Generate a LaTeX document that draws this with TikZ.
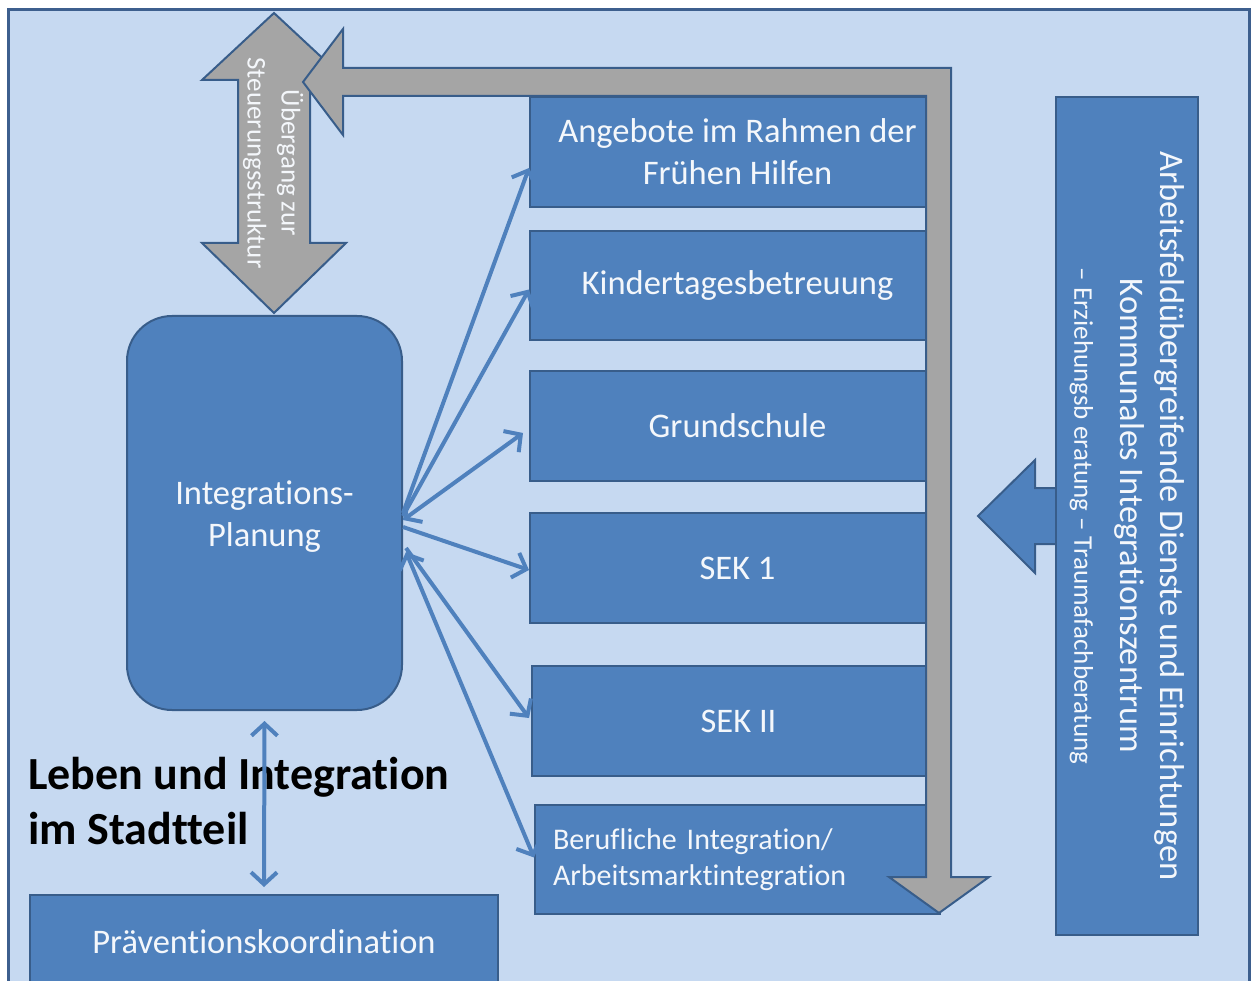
\documentclass[tikz,border=0pt]{standalone}
\usepackage{fontspec}
\setmainfont[Ligatures=NoCommon]{Carlito}
\usetikzlibrary{arrows.meta}
\definecolor{bgblue}{HTML}{C6D9F1}
\definecolor{boxblue}{HTML}{4F81BD}
\definecolor{boxedge}{HTML}{385D8A}
\definecolor{frameedge}{HTML}{3D5F8E}
\definecolor{grayarrow}{HTML}{A5A5A5}
\definecolor{txt}{HTML}{F4F7FB}
\tikzset{
  boxnode/.style={draw=boxedge, line width=2pt, fill=boxblue, text=txt, align=center,
    inner sep=0pt, font=\fontsize{34.5}{42}\selectfont},
  bigarrow/.style={draw=boxedge, line width=2pt, fill=grayarrow, line join=miter},
  bluearrow/.style={draw=boxedge, line width=2pt, fill=boxblue},
  link/.style={draw=boxblue, line width=4pt, -{Straight Barb[length=12pt,width=26pt]}},
  dlink/.style={draw=boxblue, line width=4pt, {Straight Barb[length=12pt,width=26pt]}-{Straight Barb[length=12pt,width=26pt]}},
}
\begin{document}
\begin{tikzpicture}[x=1pt,y=-1pt]
\useasboundingbox (0,0) rectangle (1252,981);
\clip (0,0) rectangle (1252,981);
% background frame
\fill[white] (0,0) rectangle (1252,981);
\draw[frameedge, line width=3pt, fill=bgblue] (8,10) rectangle (1249.5,1000);

% gray vertical double arrow
\draw[bigarrow] (274,13) -- (346,80) -- (310,80) -- (310,243) -- (346,243) -- (274,313)
  -- (202,243) -- (238,243) -- (238,80) -- (202,80) -- cycle;
\node[rotate=-90, text=txt, align=center, font=\fontsize{27}{34}\selectfont] (ueb) at (273,163)
  {Übergang zur\\Steuerungsstruktur};

% blue arrow from the right panel
\draw[bluearrow] (978,516) -- (1035,460) -- (1035,488) -- (1060,488) -- (1060,544)
  -- (1035,544) -- (1035,573) -- cycle;

% boxes (their right ends run under the gray arrow)
\node[boxnode, minimum width=415pt, minimum height=110pt] (ang) at (737.5,152)
  {Angebote im Rahmen der\\Frühen Hilfen};
\node[boxnode, minimum width=415pt, minimum height=109pt] (kita) at (737.5,285.5)
  {Kindertagesbetreuung};
\node[boxnode, minimum width=415pt, minimum height=110pt] (gs) at (737.5,426)
  {Grundschule};
\node[boxnode, minimum width=415pt, minimum height=110pt] (sek1) at (737.5,568)
  {SEK 1};
\node[boxnode, minimum width=413pt, minimum height=110pt] (sek2) at (738.5,721)
  {SEK II};
\node[boxnode, minimum width=405pt, minimum height=109pt, align=left, text width=369pt,
  font=\fontsize{30}{36}\selectfont] (beruf) at (737.5,859.5)
  {Berufliche Integration/\\Arbeitsmarktintegration};

% gray L-shaped arrow
\draw[bigarrow] (951,68) -- (951,877) -- (989,877) -- (939,913) -- (889,877) -- (926,877)
  -- (926,96) -- (343,96) -- (343,135) -- (303,82) -- (343,29) -- (343,68) -- cycle;

% right panel
\node[boxnode, rotate=-90, minimum width=838pt, minimum height=142pt] (panel) at (1127,516)
  {Arbeitsfeldübergreifende Dienste und Einrichtungen\\[-2pt]
   Kommunales Integrationszentrum\\[4pt]
   {\fontsize{27}{32}\selectfont – Erziehungsb eratung – Traumafachberatung}};

% Integrations-Planung
\node[boxnode, rounded corners=45pt, minimum width=275pt, minimum height=394pt] (plan) at (264.5,513)
  {\rule{0pt}{30pt}Integrations-\\Planung};

% Prävention
\node[boxnode, minimum width=468pt, minimum height=94pt] (prae) at (264,942)
  {Präventionskoordination};

% title text
\node[anchor=north west, align=left, text=black, inner sep=0pt,
  font=\fontsize{46}{55}\bfseries\selectfont] (title) at (28,757)
  {Leben und Integration\\im Stadtteil};

% connectors
\draw[link] ([yshift=0pt]plan.east) -- ([yshift=-16pt]ang.west);
\draw[link] ([yshift=-3pt]plan.east) -- ([yshift=-4pt]kita.west);
\draw[dlink] ([yshift=-7pt]plan.east) -- ([xshift=-6pt,yshift=-7pt]gs.west);
\draw[link] ([yshift=-14pt]plan.east) -- ([yshift=-2pt]sek1.west);
\draw[link] ([xshift=3pt,yshift=-35pt]plan.east) -- ([xshift=-2pt,yshift=3pt]sek2.west);
\draw[dlink] ([xshift=3pt,yshift=-39pt]plan.east) -- ([yshift=2pt]beruf.west);
\draw[dlink] ([yshift=-10pt]plan.south) -- ([yshift=7pt]prae.north);
\end{tikzpicture}
\end{document}
